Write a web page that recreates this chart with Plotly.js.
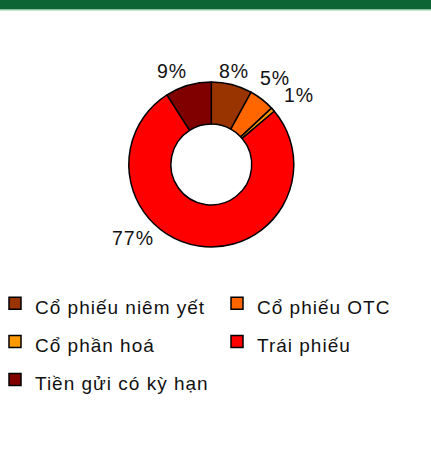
<!DOCTYPE html>
<html>
<head>
<meta charset="utf-8">
<script src="https://cdn.plot.ly/plotly-3.0.1.min.js"></script>
<style>
html,body{margin:0;padding:0;background:#fff;overflow:hidden;width:431px;height:450px;}
#chart{width:450px;height:450px;}
.legendtext,.annotation-text{letter-spacing:1px;}
</style>
</head>
<body>
<div id="chart"></div>
<script>
const categories = ["Cổ phiếu niêm yết", "Cổ phiếu OTC", "Cổ phần hoá", "Trái phiếu", "Tiền gửi có kỳ hạn"];
const values = [8, 5, 0.8, 77, 9];
const colors = ["#993300", "#FF6600", "#FF9900", "#FF0000", "#800000"];

const W = 450, H = 450;
const px = x => x / W;
const py = y => 1 - y / H;

const total = values.reduce((a, b) => a + b, 0);
const pctLabels = values.map(v => Math.round(v / total * 100) + "%");
// label centre positions (layout, pixels) for each slice label
const labelPos = [[234, 71], [275, 78], [299, 95], [133, 238], [172, 71]];

const trace = {
  type: "pie",
  labels: categories.map(c => '<span style="font-size:19px">' + c + '</span>'),
  values: values,
  sort: false,
  direction: "clockwise",
  rotation: 0,
  hole: 0.49,
  marker: {colors: colors, line: {color: "#000", width: 1.5}},
  textinfo: "none",
  domain: {x: [px(211.3 - 82.5), px(211.3 + 82.5)], y: [py(164.5 + 82.5), py(164.5 - 82.5)]},
  hoverinfo: "none"
};

const annotations = pctLabels.map((t, i) => ({
  text: t, showarrow: false,
  xref: "paper", yref: "paper",
  x: px(labelPos[i][0]), y: py(labelPos[i][1]),
  xanchor: "center", yanchor: "middle",
  font: {family: "Liberation Sans, Arial, sans-serif", size: 19.5, color: "#111"}
}));

const layout = {
  width: W, height: H,
  margin: {l: 0, r: 0, t: 0, b: 0},
  paper_bgcolor: "#fff",
  font: {family: "Liberation Sans, Arial, sans-serif", color: "#111"},
  showlegend: true,
  legend: {
    orientation: "h",
    x: 0.0, xanchor: "left",
    y: 0.3795, yanchor: "top",
    entrywidth: 182, entrywidthmode: "pixels",
    indentation: -5,
    font: {size: 27, family: "Liberation Sans, Arial, sans-serif", color: "#111"},
    traceorder: "normal"
  },
  annotations: annotations,
  shapes: [
    {type: "rect", xref: "paper", yref: "paper", x0: 0, x1: 1, y0: py(9), y1: 1, fillcolor: "#0b6535", line: {width: 0}},
    {type: "rect", xref: "paper", yref: "paper", x0: 0, x1: 1, y0: py(10.5), y1: py(9), fillcolor: "#8cc4a2", line: {width: 0}}
  ]
};

Plotly.newPlot("chart", [trace], layout, {displayModeBar: false, staticPlot: true});
</script>
</body>
</html>
